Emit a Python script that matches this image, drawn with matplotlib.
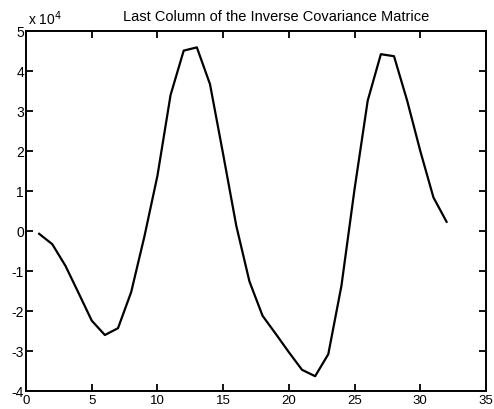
import matplotlib
matplotlib.use("Agg")
import matplotlib.pyplot as plt
from matplotlib.ticker import FuncFormatter

x_idx = list(range(1, 33))
values = [-700, -3300, -8700, -15500, -22400, -26000, -24300, -15300,
          -1500, 13800, 34000, 45100, 45900, 36700, 19200, 1300,
          -12600, -21200, -25700, -30300, -34700, -36300, -30800, -13700,
          10500, 32600, 44200, 43700, 32600, 20000, 8400, 2300]
x_ticks = [0, 5, 10, 15, 20, 25, 30, 35]
y_ticks = [-40000, -30000, -20000, -10000, 0, 10000, 20000, 30000, 40000, 50000]
title = "Last Column of the Inverse Covariance Matrice"

plt.rcParams['font.family'] = ['Liberation Sans', 'DejaVu Sans']
fig = plt.figure(figsize=(4.94, 4.10), dpi=100)
ax = fig.add_axes([26/494, 18/410, 460/494, 360/410])
ax.plot(x_idx, values, color='black', linewidth=1.6)
ax.set_xlim(0, 35)
ax.set_ylim(-40000, 50000)
ax.set_xticks(x_ticks)
ax.set_yticks(y_ticks)
ax.yaxis.set_major_formatter(FuncFormatter(lambda v, p: f"{v/1e4:g}"))
ax.tick_params(direction='in', length=5, width=1.3, top=True, right=True,
               labelsize=10, colors='black')
ax.tick_params(axis='x', pad=2.5, labelsize=9.5)
ax.tick_params(axis='y', pad=1.5)
for s in ax.spines.values():
    s.set_linewidth(1.4)
fig.text(276/494, 1 - 17/410, title, ha='center', va='center', fontsize=10.5)
fig.text(28/494, 1 - 19/410, r"x 10$^{4}$", ha='left', va='center', fontsize=10)
fig.savefig("out.png", dpi=100)
